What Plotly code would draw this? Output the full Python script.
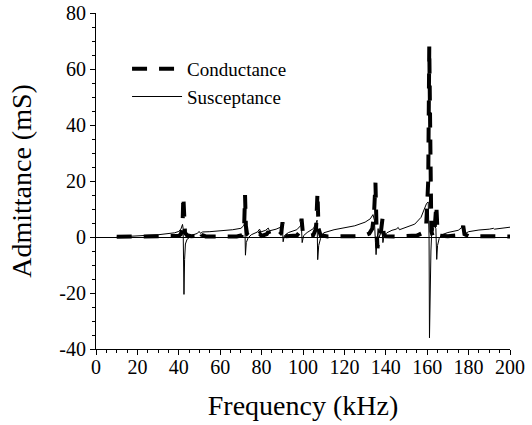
import plotly.graph_objects as go

# Conductance (mS) vs frequency (kHz)
cond_freq = [10, 20, 30, 38, 40, 41, 41.8, 42.2, 42.6, 43, 44, 46, 48, 49.5, 50.2, 51, 53, 60, 68,
             70.5, 71.5, 72, 72.4, 73, 74, 78, 79, 80, 82.5, 83.3, 84, 88, 89.5, 90.1, 90.7, 92,
             97, 98.6, 99.3, 100, 102, 105, 106.3, 107, 107.5, 108.5, 112, 125, 130, 132, 133.5,
             134.3, 135, 135.5, 136, 136.5, 137.5, 138.4, 139, 140, 145, 155, 158, 159.5, 160.5,
             161, 161.5, 162, 162.8, 163.6, 164.4, 165, 166, 170, 175, 176.8, 177.4, 178, 180, 190, 200]
cond_vals = [0.05, 0.05, 0.1, 0.2, 0.4, 1.0, 4, 14.5, 5, 1.5, 0.6, 0.3, 0.4, 1.2, 2.3, 0.8, 0.2, 0.1, 0.2,
             0.6, 2, 15, 4, 1, 0.3, 0.5, 1.2, 0.4, 1, 2, 0.5, 0.4, 1.5, 5.3, 1, 0.3,
             0.5, 2, 6.5, 1, 0.3, 0.7, 3, 15.8, 3, 0.6, 0.2, 0.3, 0.6, 1.2, 3,
             8, 19.4, 4, -4, 0, 1, 6.5, 1, 0.3, 0.2, 0.5, 1.5, 4, 20,
             68, 15, 2, 0, 3, 11.5, 2, 0.5, 0.3, 0.6, 2, 4, 1, 0.3, 0.2, 0.2]

# Susceptance (mS) vs frequency (kHz)
susc_freq = [10, 20, 30, 38, 40, 41, 41.8, 42.1, 42.3, 42.5, 42.8, 43.2, 44, 45.5, 47, 49, 49.8, 50.5,
             51.5, 55, 60, 66, 70, 71.3, 71.9, 72.2, 72.6, 73.5, 75, 78, 79, 79.6, 82, 83.2, 83.8,
             87, 89.5, 90, 90.4, 91, 93, 97, 98.8, 99.2, 99.6, 100.3, 102, 105, 106.3, 106.8,
             107.1, 107.6, 108.5, 110, 115, 120, 125, 130, 132.5, 133.8, 134.5, 135, 135.3, 135.8,
             136.3, 136.8, 137.5, 138.2, 138.6, 139.2, 140.5, 143, 145, 146, 146.6, 150, 154, 157,
             158.5, 159.7, 160.5, 160.9, 161.1, 161.4, 161.8, 162.3, 162.8, 163.5, 164.2, 164.6,
             165, 165.8, 167, 170, 175, 176.8, 177.3, 177.7, 178.3, 180, 185, 190, 192, 192.5, 195, 200]
susc_vals = [0, 0.3, 0.8, 1.5, 2, 2.8, 4.5, 3, -10, -20.5, -8, -2.5, -0.8, 0, 0.8, 1.3, 2, 1.3,
             1.8, 1.9, 2.2, 2.6, 3.1, 4, 5, -6.5, -2, -0.3, 0.8, 1.8, 2.8, 1.8, 2.4, 3.2, 2.2,
             2.8, 3.6, 4.2, -1.7, 0.5, 1.6, 2.6, 4, 4.5, -2, 0.5, 1.6, 3, 5, 6,
             -8.1, -3, -0.5, 1.5, 2.6, 3.3, 4, 5.3, 6.5, 8, 6, -2, -6.3, -1,
             3, 0, 1, 2.5, -2, 0.5, 1.5, 2.4, 2.8, 3.4, 2.6, 3.5, 4.6, 7,
             9.5, 12, 12.5, 0, -36, -15, -5, 4, 2, 4.5, 3, -8,
             -3, -0.5, 0.8, 1.6, 2.4, 3.4, 3.7, 1.5, 1.2, 1.9, 2.5, 2.8, 3.1, 2.8, 3.1, 3.5]

x_ticks = [0, 20, 40, 60, 80, 100, 120, 140, 160, 180, 200]
x_tick_labels = ["0", "20", "40", "60", "80", "100", "120", "140", "160", "180", "200"]
y_ticks = [-40, -20, 0, 20, 40, 60, 80]
y_tick_labels = ["-40", "-20", "0", "20", "40", "60", "80"]

FONT = "Liberation Serif"

fig = go.Figure()
fig.add_trace(go.Scatter(x=cond_freq, y=cond_vals, mode="lines", name="Conductance",
                         line=dict(color="black", width=4, dash="15px,12px")))
fig.add_trace(go.Scatter(x=susc_freq, y=susc_vals, mode="lines", name="Susceptance",
                         line=dict(color="black", width=1)))

axis_common = dict(showgrid=False, showline=True, linecolor="black", linewidth=1,
                   ticks="outside", ticklen=5, tickwidth=1, tickcolor="black",
                   tickfont=dict(family=FONT, size=20, color="black"),
                   tickmode="array", automargin=False,
                   minor=dict(ticks="outside", ticklen=3, tickwidth=1, tickcolor="black", dtick=5, tick0=0))

fig.update_xaxes(range=[0, 200], tickvals=x_ticks, ticktext=x_tick_labels,
                 zeroline=False, ticklabelstandoff=-5,
                 title=dict(text="Frequency (kHz)", font=dict(family=FONT, size=28, color="black"), standoff=18),
                 **axis_common)
fig.update_yaxes(range=[-40, 80], tickvals=y_ticks, ticktext=y_tick_labels,
                 zeroline=True, zerolinecolor="black", zerolinewidth=1,
                 title=dict(text="Admittance (mS)", font=dict(family=FONT, size=28, color="black"), standoff=19),
                 **axis_common)

fig.update_layout(
    width=532, height=425,
    margin=dict(l=96, r=22, t=13, b=76, autoexpand=False),
    paper_bgcolor="white", plot_bgcolor="white",
    font=dict(family=FONT, color="black"),
    showlegend=True,
    legend=dict(x=0.075, y=0.89, xanchor="left", yanchor="top",
                bgcolor="rgba(0,0,0,0)", borderwidth=0,
                font=dict(family=FONT, size=19, color="black"),
                itemwidth=50, tracegroupgap=0),
)

fig.write_html("out.html", config={"displayModeBar": False},
               post_script="document.body.style.margin='0';")
